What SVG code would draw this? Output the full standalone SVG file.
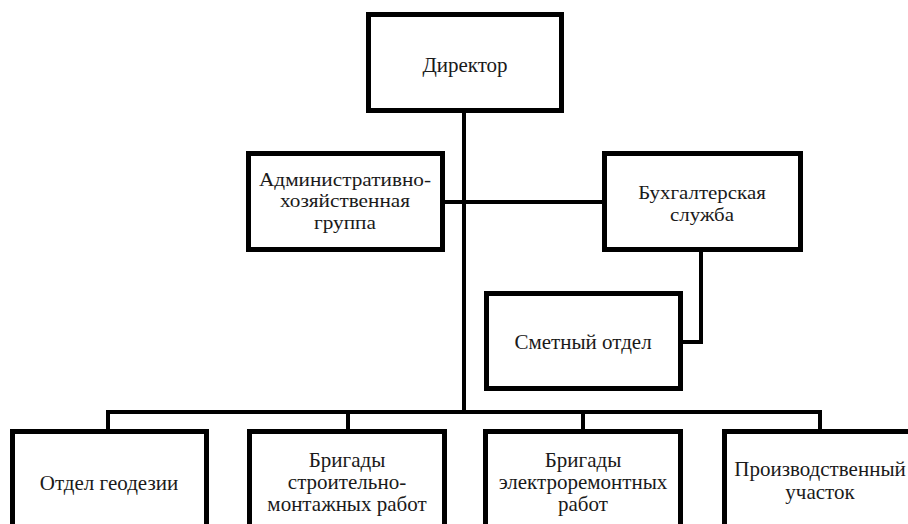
<svg xmlns="http://www.w3.org/2000/svg" width="908" height="524" viewBox="0 0 908 524">
<style>
.box{fill:#fff;stroke:#000;stroke-width:5}
.ln{fill:none;stroke:#000;stroke-width:4}
text{font-family:"Liberation Serif","Times New Roman",serif;font-size:21px;fill:#1a1a1a;text-anchor:middle}
.sm{font-size:19px}
</style>
<rect width="908" height="524" fill="#fff"/>
<g id="connectors">
<line class="ln" x1="464" y1="111" x2="464" y2="414"/>
<line class="ln" x1="443" y1="202" x2="605" y2="202"/>
<polyline class="ln" points="701,250 701,342 681,342"/>
<line class="ln" x1="106" y1="412" x2="822" y2="412"/>
<line class="ln" x1="108" y1="412" x2="108" y2="432"/>
<line class="ln" x1="348" y1="412" x2="348" y2="432"/>
<line class="ln" x1="583" y1="412" x2="583" y2="432"/>
<line class="ln" x1="820" y1="412" x2="820" y2="432"/>
</g>
<g id="director">
<rect class="box" x="368.5" y="14.5" width="193" height="96"/>
<text x="465" y="72">Директор</text>
</g>
<g id="admin">
<rect class="box" x="248.5" y="153.5" width="194" height="96"/>
<g transform="translate(345 0) scale(1.12 1) translate(-345 0)">
<text class="sm" x="345" y="186">Административно-</text>
<text class="sm" x="345" y="207.5">хозяйственная</text>
<text class="sm" x="345" y="229">группа</text>
</g>
</g>
<g id="buh">
<rect class="box" x="604.5" y="153.5" width="196" height="96"/>
<g transform="translate(702 0) scale(1.1 1) translate(-702 0)">
<text class="sm" x="702" y="199">Бухгалтерская</text>
<text class="sm" x="702" y="221">служба</text>
</g>
</g>
<g id="smeta">
<rect class="box" x="486.5" y="293.5" width="194" height="95"/>
<text x="583" y="349">Сметный отдел</text>
</g>
<g id="geodez">
<rect class="box" x="12.5" y="431.5" width="194" height="130"/>
<text x="109" y="490">Отдел геодезии</text>
</g>
<g id="stroit">
<rect class="box" x="249.5" y="431.5" width="195" height="130"/>
<text x="347" y="467">Бригады</text>
<text x="347" y="489">строительно-</text>
<text x="347" y="511">монтажных работ</text>
</g>
<g id="elektro">
<rect class="box" x="485.5" y="431.5" width="195" height="130"/>
<text x="583" y="467">Бригады</text>
<text x="583" y="489">электроремонтных</text>
<text x="583" y="511">работ</text>
</g>
<g id="proizv">
<rect class="box" x="724.5" y="431.5" width="195" height="130"/>
<text x="820" y="476">Производственный</text>
<text x="820" y="499">участок</text>
</g>
</svg>
